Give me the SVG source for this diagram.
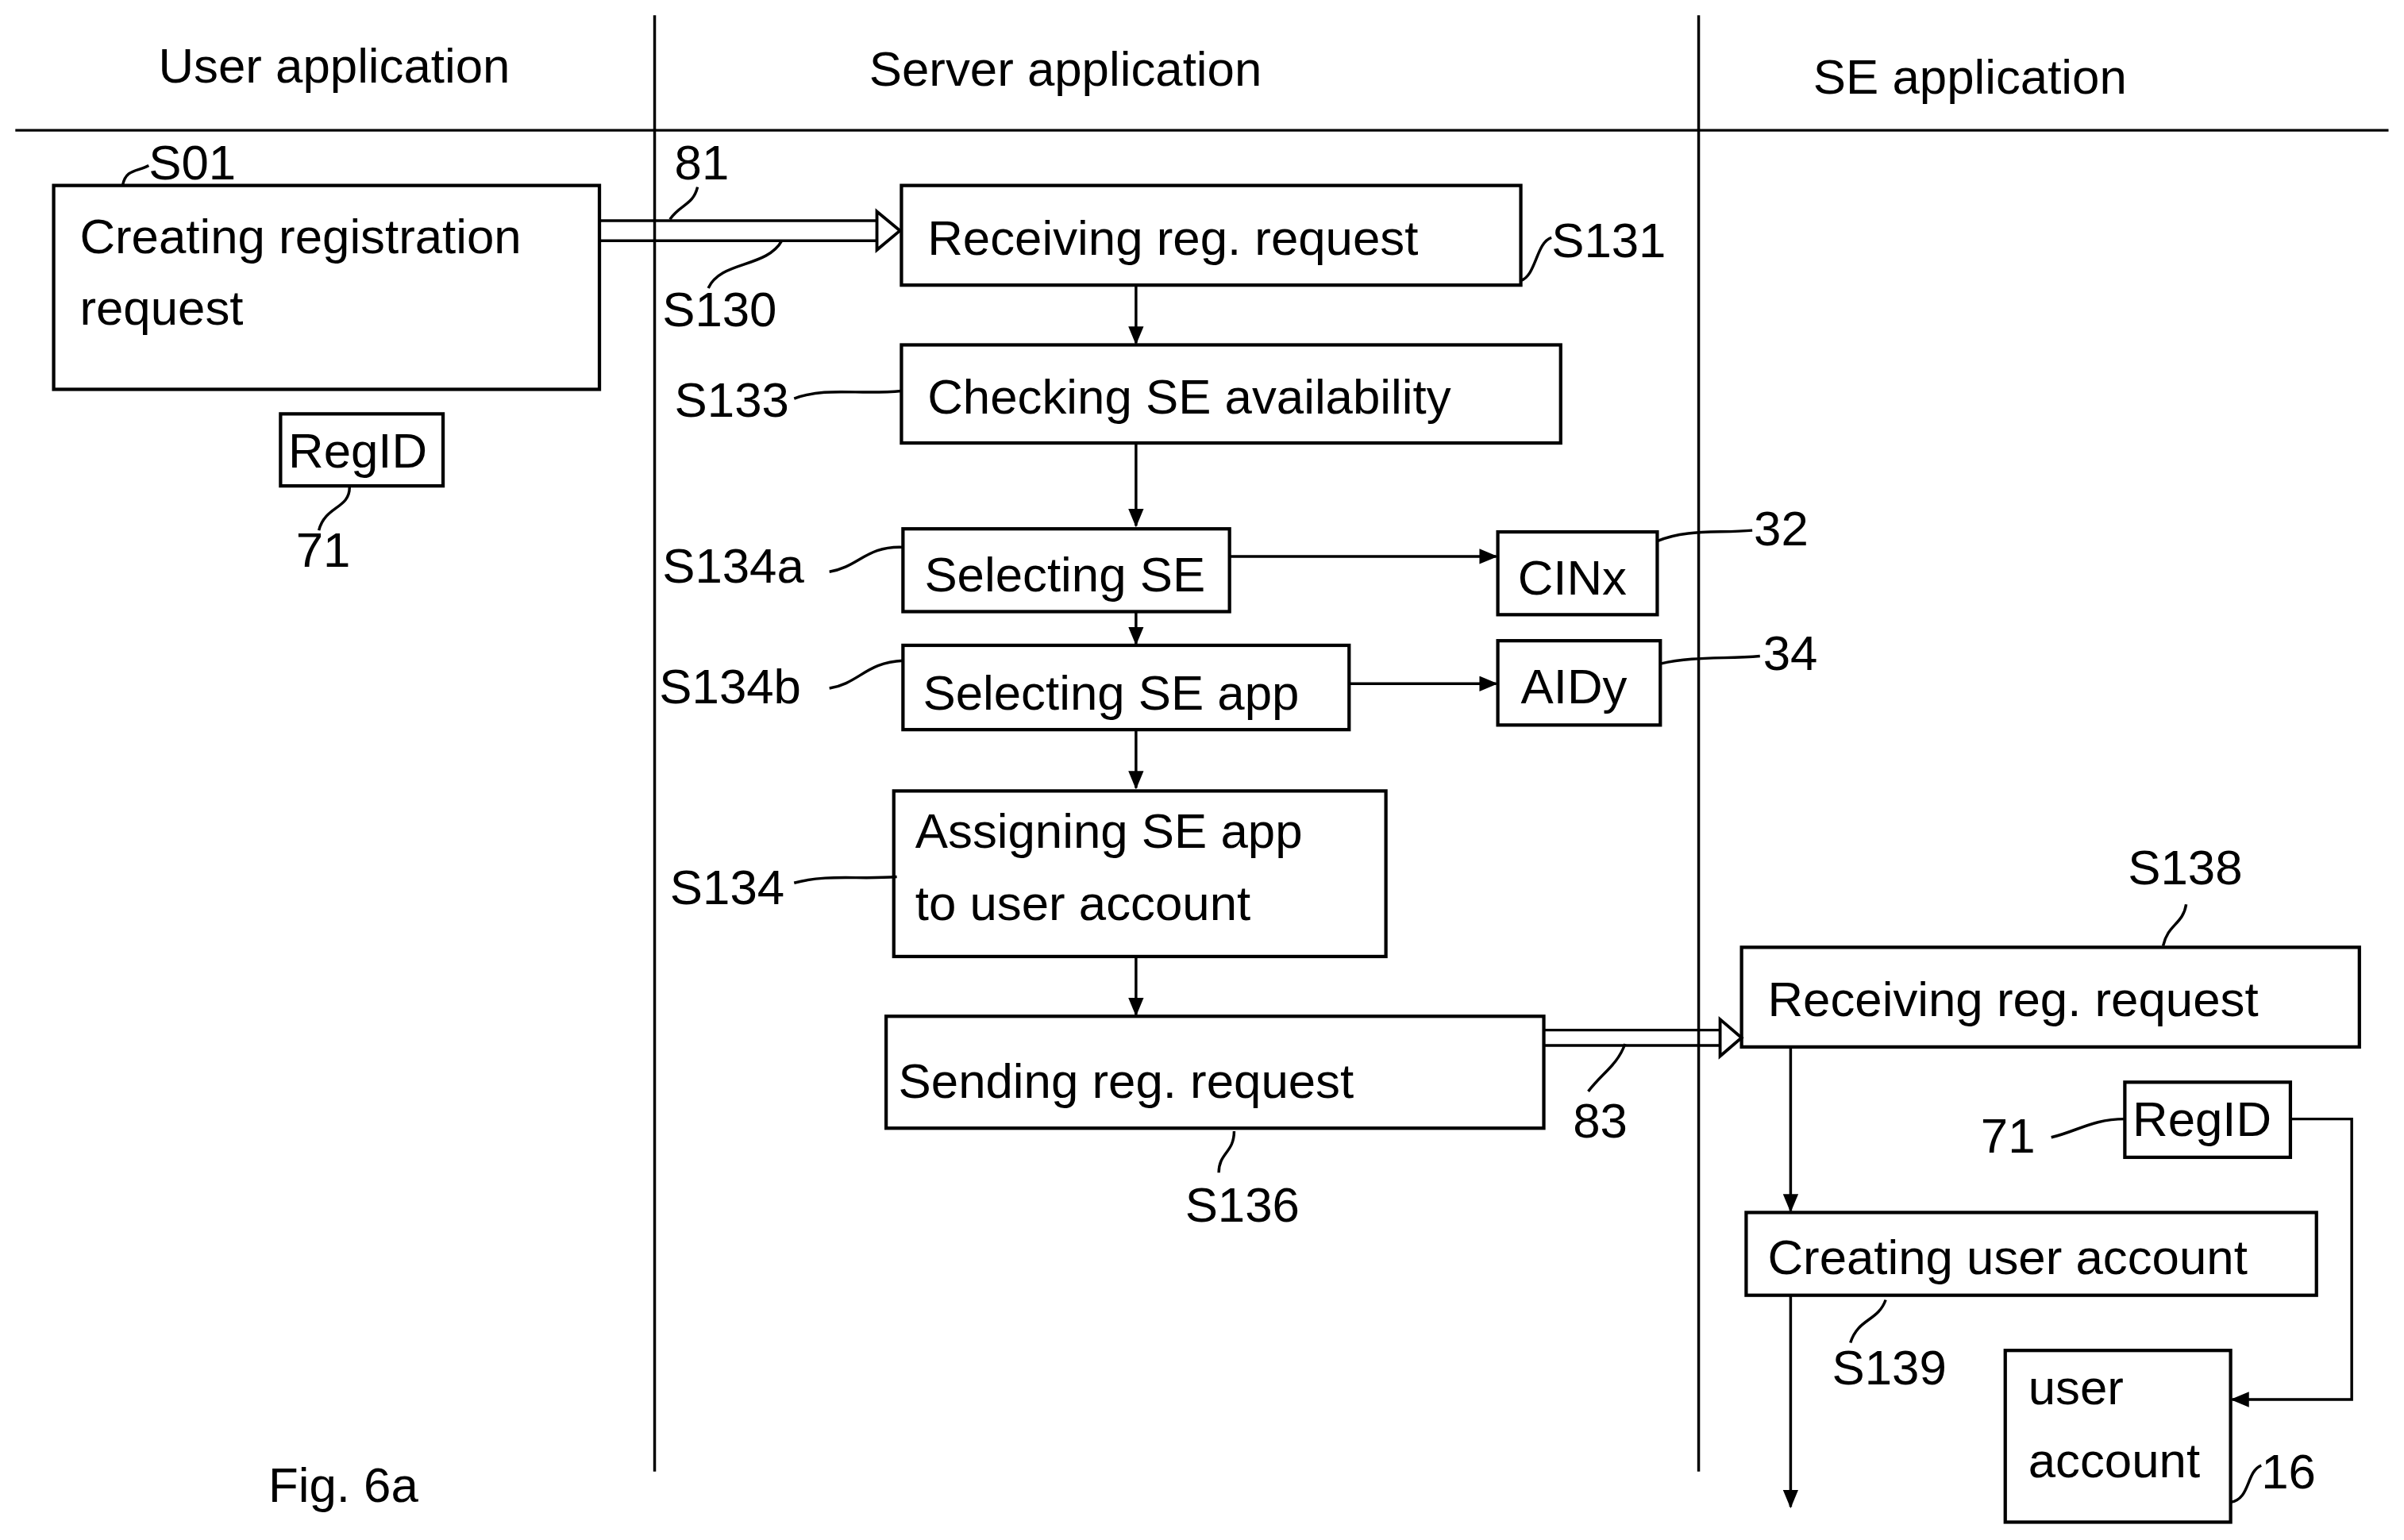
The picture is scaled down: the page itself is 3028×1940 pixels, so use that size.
<svg xmlns="http://www.w3.org/2000/svg" width="3028" height="1940" viewBox="0 0 3028 1940">
<defs>
<marker id="ah" markerWidth="12" markerHeight="10" refX="11" refY="5" orient="auto" markerUnits="userSpaceOnUse"><path d="M0,0 L12,5 L0,10 Z" fill="#000"/></marker>
<style>
text{font-family:"Liberation Sans",Arial,sans-serif;font-size:32px;fill:#000}
.b{fill:#fff;stroke:#000;stroke-width:2.2}
.l{fill:none;stroke:#000;stroke-width:1.8}
.a{fill:none;stroke:#000;stroke-width:1.8;marker-end:url(#ah)}
</style>
</defs>
<rect width="3028" height="1940" fill="#fff"/>
<g transform="scale(1.931)">
<g id="lanes">
<line class="l" x1="10" y1="85" x2="1558" y2="85"/>
<line class="l" x1="427" y1="10" x2="427" y2="960"/>
<line class="l" x1="1108" y1="10" x2="1108" y2="960"/>
<text x="218" y="54" text-anchor="middle">User application</text>
<text x="695" y="56" text-anchor="middle">Server application</text>
<text x="1285" y="61" text-anchor="middle">SE application</text>
</g>
<g id="n-s01"><rect class="b" x="35" y="121" width="356" height="133"/><text x="52" y="165">Creating registration</text><text x="52" y="212">request</text></g>
<g id="n-regid1"><rect class="b" x="183" y="270" width="106" height="47"/><text x="188" y="305">RegID</text></g>
<g id="n-s131"><rect class="b" x="588" y="121" width="404" height="65"/><text x="605" y="166">Receiving reg. request</text></g>
<g id="n-s133"><rect class="b" x="588" y="225" width="430" height="64"/><text x="605" y="270">Checking SE availability</text></g>
<g id="n-s134a"><rect class="b" x="589" y="345" width="213" height="54"/><text x="603" y="386">Selecting SE</text></g>
<g id="n-cinx"><rect class="b" x="977" y="347" width="104" height="54"/><text x="990" y="388">CINx</text></g>
<g id="n-s134b"><rect class="b" x="589" y="421" width="291" height="55"/><text x="602" y="463">Selecting SE app</text></g>
<g id="n-aidy"><rect class="b" x="977" y="418" width="106" height="55"/><text x="992" y="459">AIDy</text></g>
<g id="n-s134"><rect class="b" x="583" y="516" width="321" height="108"/><text x="597" y="553">Assigning SE app</text><text x="597" y="600">to user account</text></g>
<g id="n-s136"><rect class="b" x="578" y="663" width="429" height="73"/><text x="586" y="716">Sending reg. request</text></g>
<g id="n-s138"><rect class="b" x="1136" y="618" width="403" height="65"/><text x="1153" y="663">Receiving reg. request</text></g>
<g id="n-regid2"><rect class="b" x="1386" y="706" width="108" height="49"/><text x="1391" y="741">RegID</text></g>
<g id="n-s139"><rect class="b" x="1139" y="791" width="372" height="54"/><text x="1153" y="831">Creating user account</text></g>
<g id="n-acct"><rect class="b" x="1308" y="881" width="147" height="112"/><text x="1323" y="916">user</text><text x="1323" y="964">account</text></g>
<g id="connectors">
<path class="l" d="M391,144 H574 M391,157 H574"/>
<path d="M572,138 L587,150.5 L572,163 Z" fill="#fff" stroke="#000" stroke-width="2"/>
<path class="l" d="M1007,672 H1123 M1007,682 H1123"/>
<path d="M1122,665 L1136,677 L1122,689 Z" fill="#fff" stroke="#000" stroke-width="2"/>
<line class="a" x1="741" y1="186" x2="741" y2="224"/>
<line class="a" x1="741" y1="289" x2="741" y2="343"/>
<line class="a" x1="802" y1="363" x2="976" y2="363"/>
<line class="a" x1="741" y1="399" x2="741" y2="420"/>
<line class="a" x1="880" y1="446" x2="976" y2="446"/>
<line class="a" x1="741" y1="476" x2="741" y2="514"/>
<line class="a" x1="741" y1="624" x2="741" y2="662"/>
<line class="a" x1="1168" y1="683" x2="1168" y2="790"/>
<line class="a" x1="1168" y1="845" x2="1168" y2="983"/>
<path class="a" d="M1494,730 H1534 V913 H1456"/>
</g>
<g id="labels">
<text x="97" y="117">S01</text><path class="l" d="M80,121 C82,110 90,112 97,108"/>
<text x="193" y="370">71</text><path class="l" d="M228,318 C228,332 212,330 208,346"/>
<text x="440" y="117">81</text><path class="l" d="M437,143 C444,133 452,134 455,122"/>
<text x="432" y="213">S130</text><path class="l" d="M462,188 C470,170 500,175 510,157"/>
<text x="1012" y="168">S131</text><path class="l" d="M992,183 C1002,180 1002,158 1012,155"/>
<text x="440" y="272">S133</text><path class="l" d="M518,260 C540,252 560,258 588,255"/>
<text x="432" y="380">S134a</text><path class="l" d="M541,373 C560,370 565,356 589,357"/>
<text x="1144" y="356">32</text><path class="l" d="M1081,353 C1100,345 1120,348 1143,346"/>
<text x="430" y="459">S134b</text><path class="l" d="M541,449 C560,446 565,432 589,431"/>
<text x="1150" y="437">34</text><path class="l" d="M1083,433 C1105,428 1125,430 1148,428"/>
<text x="437" y="590">S134</text><path class="l" d="M518,576 C540,570 560,574 585,572"/>
<text x="773" y="797">S136</text><path class="l" d="M805,738 C805,752 795,752 795,765"/>
<text x="1026" y="742">83</text><path class="l" d="M1036,712 C1045,700 1055,695 1060,681"/>
<text x="1388" y="577">S138</text><path class="l" d="M1411,617 C1414,603 1424,603 1426,590"/>
<text x="1292" y="752">71</text><path class="l" d="M1338,742 C1355,738 1365,730 1386,730"/>
<text x="1195" y="903">S139</text><path class="l" d="M1207,876 C1212,860 1225,862 1230,848"/>
<text x="1475" y="971">16</text><path class="l" d="M1455,980 C1468,978 1465,960 1475,956"/>
<text x="175" y="980">Fig. 6a</text>
</g>
</g>
</svg>
